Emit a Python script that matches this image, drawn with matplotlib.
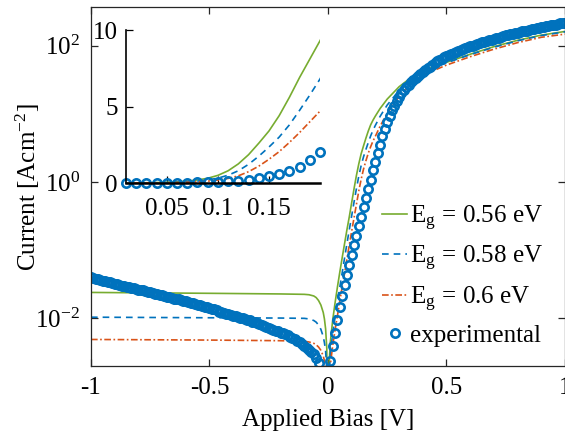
import numpy as np
import matplotlib
matplotlib.use('Agg')
import matplotlib.pyplot as plt
from matplotlib.ticker import NullLocator

# ---- data ----
bias_model = [-1.0, -0.5, -0.2, -0.1, -0.08, -0.06, -0.05, -0.04, -0.03, -0.02, -0.015, -0.01, -0.005, 0.0,
              0.005, 0.01, 0.02, 0.03, 0.04, 0.05, 0.06, 0.07, 0.08, 0.09, 0.10,
              0.11, 0.12, 0.13, 0.14, 0.15, 0.16, 0.17, 0.18, 0.19, 0.20,
              0.22, 0.25, 0.3, 0.35, 0.4, 0.5, 0.6, 0.7, 0.8, 0.9, 1.0]

# |current| in A/cm^2 for the three band gaps
cur_056 = [0.024, 0.0233, 0.0228, 0.0225, 0.0222, 0.0213, 0.0202, 0.0183, 0.0157, 0.0122, 0.0098, 0.0070, 0.0036, 1e-5,
           0.0022, 0.0045, 0.0095, 0.017, 0.029, 0.048, 0.078, 0.125, 0.20, 0.31, 0.50,
           0.80, 1.25, 1.85, 2.6, 3.4, 4.4, 5.6, 6.9, 8.1, 9.3,
           12.0, 16.5, 25, 34, 43, 57, 75, 97, 120, 143, 162]
cur_058 = [0.0104, 0.0102, 0.0101, 0.0100, 0.0098, 0.0093, 0.0088, 0.0080, 0.0069, 0.0054, 0.0044, 0.0033, 0.0018, 1e-5,
           0.0014, 0.0030, 0.0060, 0.0105, 0.018, 0.029, 0.047, 0.077, 0.125, 0.20, 0.32,
           0.51, 0.80, 1.22, 1.75, 2.35, 3.0, 3.8, 4.75, 5.75, 6.8,
           9.2, 13.5, 22, 31, 41, 56, 74, 95, 118, 141, 160]
cur_060 = [0.0049, 0.0048, 0.0047, 0.0046, 0.0045, 0.0043, 0.0041, 0.0038, 0.0034, 0.0028, 0.0024, 0.0018, 0.0010, 1e-5,
           0.0011, 0.0021, 0.0040, 0.0068, 0.011, 0.018, 0.029, 0.046, 0.075, 0.12, 0.19,
           0.30, 0.47, 0.74, 1.10, 1.55, 2.05, 2.65, 3.3, 4.0, 4.7,
           6.6, 10.2, 18, 27, 37, 52, 69, 89, 111, 133, 148]

# experimental sweep, -1 V .. 1 V in 10 mV steps, log10(|J|)
bias_exp = np.linspace(-1, 1, 201)
log_cur_exp = [
    -1.40, -1.41, -1.42, -1.43, -1.44, -1.45, -1.45, -1.46, -1.47, -1.48, -1.49, -1.50, -1.51, -1.52,
    -1.53, -1.54, -1.54, -1.55, -1.56, -1.57, -1.58, -1.59, -1.59, -1.60, -1.61, -1.62, -1.63, -1.64,
    -1.65, -1.66, -1.66, -1.67, -1.68, -1.69, -1.70, -1.71, -1.71, -1.72, -1.73, -1.74, -1.75, -1.76,
    -1.77, -1.78, -1.79, -1.80, -1.81, -1.82, -1.83, -1.84, -1.85, -1.86, -1.87, -1.88, -1.90, -1.91,
    -1.92, -1.93, -1.94, -1.95, -1.96, -1.97, -1.98, -1.99, -2.00, -2.01, -2.02, -2.03, -2.05, -2.06,
    -2.07, -2.09, -2.10, -2.11, -2.13, -2.14, -2.15, -2.17, -2.18, -2.19, -2.21, -2.22, -2.23, -2.25,
    -2.27, -2.29, -2.31, -2.33, -2.35, -2.37, -2.40,
    -2.43, -2.46, -2.50, -2.53, -2.58, -2.66,
    -2.78, -2.95, -3.20, -3.60,
    -2.63, -2.41, -2.21, -2.02, -1.84, -1.67, -1.51, -1.36, -1.21, -1.07,
    -0.93, -0.79, -0.65, -0.51, -0.37, -0.23, -0.10, 0.03, 0.175, 0.30,
    0.43, 0.55, 0.67, 0.78, 0.88, 0.97, 1.05, 1.12, 1.19, 1.25,
    1.30, 1.35, 1.39, 1.43, 1.47, 1.50, 1.53, 1.56, 1.59, 1.62,
    1.64, 1.67, 1.69, 1.72, 1.74, 1.77, 1.79, 1.81, 1.83, 1.85,
    1.86, 1.88, 1.89, 1.91, 1.92, 1.94, 1.95, 1.96, 1.98, 1.99,
    2.00, 2.01, 2.02, 2.04, 2.05, 2.06, 2.07, 2.08, 2.09, 2.10,
    2.11, 2.12, 2.13, 2.14, 2.15, 2.16, 2.17, 2.17, 2.18, 2.19,
    2.20, 2.21, 2.22, 2.22, 2.23, 2.24, 2.25, 2.26, 2.26, 2.27,
    2.28, 2.29, 2.29, 2.30, 2.31, 2.31, 2.32, 2.33, 2.33, 2.34]
cur_exp = np.power(10.0, log_cur_exp)

labels = ['E$_{\\mathregular{g}}$ = 0.56 eV', 'E$_{\\mathregular{g}}$ = 0.58 eV',
          'E$_{\\mathregular{g}}$ = 0.6 eV', 'experimental']
xtick_vals = [-1, -0.5, 0, 0.5, 1]
xtick_labels = ['-1', '-0.5', '0', '0.5', '1']
inset_xticks = [0.05, 0.1, 0.15]
inset_xlabels = ['0.05', '0.1', '0.15']
inset_yticks = [0, 5, 10]

green = '#77AC30'
blue = '#0072BD'
orange = '#D95319'

plt.rcParams['font.family'] = 'Liberation Serif'
plt.rcParams['mathtext.fontset'] = 'stix'
plt.rcParams['axes.unicode_minus'] = False
plt.rcParams['font.size'] = 18

fig = plt.figure(figsize=(5.65, 4.37), dpi=100)
ax = fig.add_axes([0.161, 0.1625, 0.839, 0.8215])

lw = 1.2
ms, mew = 6.0, 1.9
ax.plot(bias_model, cur_056, color=green, lw=lw, label=labels[0])
ax.plot(bias_model, cur_058, color=blue, lw=lw, ls=(0, (4, 3)), label=labels[1])
ax.plot(bias_model, cur_060, color=orange, lw=lw, ls=(0, (4, 1.5, 1, 1.5)), label=labels[2])
ax.plot(bias_exp, cur_exp, 'o', color=blue, mfc='none', ms=ms, mew=mew, label=labels[3])

ax.set_yscale('log')
ax.set_xlim(-1, 1)
ax.set_ylim(2e-3, 370)
ax.set_yticks([1e-2, 1e0, 1e2])
ax.yaxis.set_minor_locator(NullLocator())
ax.set_xticks(xtick_vals)
ax.set_xticklabels(xtick_labels)
ax.tick_params(direction='in', top=True, right=True, length=5, width=0.9, color='#262626', pad=8)
for s in ax.spines.values():
    s.set_color('#262626')
    s.set_linewidth(0.9)
ax.set_xlabel('Applied Bias [V]', labelpad=7)
ax.set_ylabel('Current [Acm$^{\\mathregular{-2}}$]')
ax.yaxis.set_label_coords(-0.103, 0.5)

ax.legend(loc='upper left', bbox_to_anchor=(0.614, 0.453), frameon=False, borderpad=0,
          handlelength=1.0, handletextpad=0.1, labelspacing=0.46, borderaxespad=0)

# inset: linear zoom of the low forward bias
ins = fig.add_axes([0.223, 0.5812, 0.3434, 0.3501])
ins.plot(bias_model, cur_056, color=green, lw=lw)
ins.plot(bias_model, cur_058, color=blue, lw=lw, ls=(0, (4, 3)))
ins.plot(bias_model, cur_060, color=orange, lw=lw, ls=(0, (4, 1.5, 1, 1.5)))
sel = (bias_exp > 0.005) & (bias_exp < 0.205)
ins.plot(bias_exp[sel], cur_exp[sel], 'o', color=blue, mfc='none', ms=ms, mew=mew, clip_on=False)
ins.set_xlim(0.01, 0.2)
ins.set_ylim(0, 10)
ins.set_xticks(inset_xticks)
ins.set_xticklabels(inset_xlabels)
ins.set_yticks(inset_yticks)
ins.spines['top'].set_visible(False)
ins.spines['right'].set_visible(False)
ins.spines['left'].set_linewidth(1.2)
ins.spines['bottom'].set_linewidth(1.8)
ins.tick_params(direction='in', length=5, width=0.9)
ins.tick_params(axis='x', pad=11)
ins.tick_params(axis='y', pad=6)

fig.savefig('out.png', dpi=100)
